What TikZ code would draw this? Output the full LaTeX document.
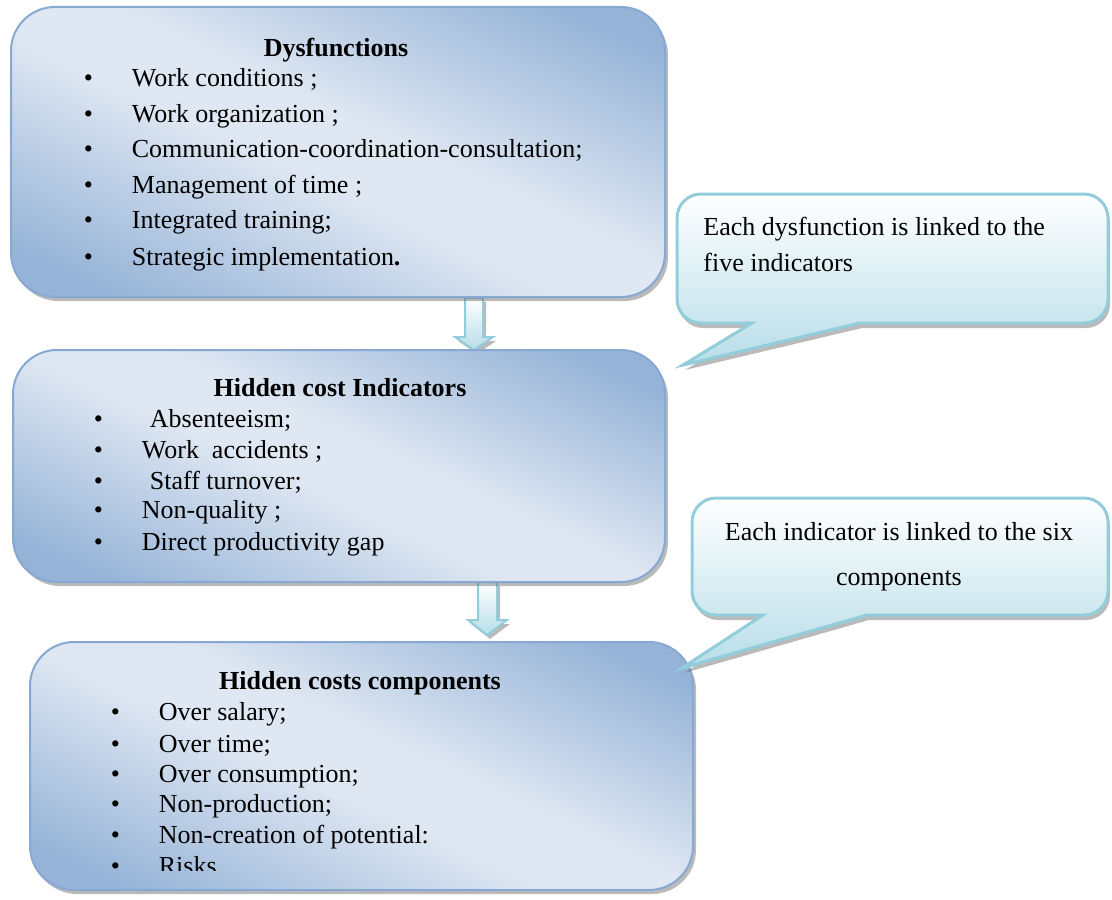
\documentclass[tikz,border=0pt]{standalone}
\usepackage{fontspec}
\setmainfont{Liberation Serif}
\usetikzlibrary{shadows}

\definecolor{boxlight}{HTML}{DFE7F2}
\definecolor{boxdark}{HTML}{95B3D7}
\definecolor{boxline}{HTML}{88A8D4}
\definecolor{calldark}{HTML}{B7DDE8}
\definecolor{callline}{HTML}{92CDDC}

\pgfdeclareverticalshading{costshade}{100bp}{color(0bp)=(boxdark); color(22bp)=(boxdark);
    color(46bp)=(boxlight); color(54bp)=(boxlight); color(78bp)=(boxdark); color(100bp)=(boxdark)}

\newcommand{\bul}{\makebox[24pt][l]{•}}

\tikzset{
    costbox/.style={rectangle, rounded corners=22pt, draw=boxline, line width=1pt,
        shading=costshade, shading angle=-25,
        drop shadow={shadow xshift=1.5pt, shadow yshift=-2pt, opacity=.45, fill=black!60}},
    callbox/.style={draw=callline, line width=1.5pt, top color=white, bottom color=calldark,
        drop shadow={shadow xshift=1pt, shadow yshift=-2.5pt, opacity=.45, fill=black!60}},
    blockarrow/.style={draw=callline, line width=1pt, top color=white, bottom color=calldark,
        drop shadow={shadow xshift=1.5pt, shadow yshift=-2pt, opacity=.45, fill=black!60}},
    title/.style={font=\fontsize{13}{15}\selectfont\bfseries, anchor=base, inner sep=0pt},
    item/.style={font=\fontsize{13}{15}\selectfont, anchor=base west, inner sep=0pt},
    note/.style={font=\fontsize{13}{15}\selectfont, anchor=base, inner sep=0pt},
}

\begin{document}
\begin{tikzpicture}[x=0.5pt, y=-0.5pt]
    \useasboundingbox (0,0) rectangle (1112,899);

    % arrows between the boxes
    \draw[blockarrow] (465,298) -- (465,337) -- (455,337) -- (474,350) -- (493,337) -- (483,337) -- (483,298) -- cycle;
    \draw[blockarrow] (478,582) -- (478,620) -- (468,620) -- (487,635) -- (507,620) -- (497,620) -- (497,582) -- cycle;

    % dysfunctions
    \node[costbox, minimum width=327pt, minimum height=145pt] (dys) at (338,152) {};
    \node[title] (dystitle) at (336,57) {Dysfunctions};
    \node[item] (dys1) at (83.5,87) {\bul Work conditions ;};
    \node[item] (dys2) at (83.5,122) {\bul Work organization ;};
    \node[item] (dys3) at (83.5,157) {\bul Communication-coordination-consultation;};
    \node[item] (dys4) at (83.5,193) {\bul Management of time ;};
    \node[item] (dys5) at (83.5,228) {\bul Integrated training;};
    \node[item] (dys6) at (83.5,265) {\bul Strategic implementation{\bfseries .}};

    % indicators
    \node[costbox, minimum width=326pt, minimum height=116pt] (ind) at (339,466) {};
    \node[title] (indtitle) at (340,396) {Hidden cost Indicators};
    \node[item] (ind1) at (93.5,427) {\bul\hspace{4pt}Absenteeism;};
    \node[item] (ind2) at (93.5,458) {\bul Work\ \ accidents ;};
    \node[item] (ind3) at (93.5,489) {\bul\hspace{4pt}Staff turnover;};
    \node[item] (ind4) at (93.5,518) {\bul Non-quality ;};
    \node[item] (ind5) at (93.5,550) {\bul Direct productivity gap};

    % components
    \node[costbox, minimum width=331.5pt, minimum height=124pt] (comp) at (361.5,766) {};
    \node[title] (comptitle) at (360,689) {Hidden costs components};
    \node[item] (comp1) at (110.5,720) {\bul Over salary;};
    \node[item] (comp2) at (110.5,752) {\bul Over time;};
    \node[item] (comp3) at (110.5,782) {\bul Over consumption;};
    \node[item] (comp4) at (110.5,812) {\bul Non-production;};
    \node[item] (comp5) at (110.5,843) {\bul Non-creation of potential:};
    \begin{scope}
        \clip (0,0) rectangle (1112,870);
        \node[item] (comp6) at (110.5,874) {\bul Risks};
    \end{scope}

    % callouts
    \draw[callbox] (752,323) -- (683,365) -- (860,323) [rounded corners=12pt] -- (1108,323) -- (1108,194) -- (677,194) -- (677,323) [sharp corners] -- cycle;
    \node[item] (dysnote1) at (703,235) {Each dysfunction is linked to the};
    \node[item] (dysnote2) at (703,271) {five indicators};

    \draw[callbox] (763,615) -- (682,668) -- (867,615) [rounded corners=12pt] -- (1108,615) -- (1108,498) -- (692,498) -- (692,615) [sharp corners] -- cycle;
    \node[note] (indnote1) at (899,540) {Each indicator is linked to the six};
    \node[note] (indnote2) at (899,585) {components};
\end{tikzpicture}
\end{document}
